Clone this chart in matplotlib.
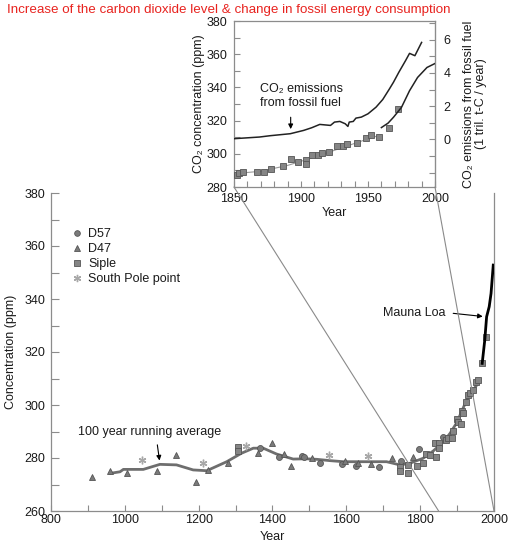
import matplotlib
matplotlib.use("Agg")
import matplotlib.pyplot as plt
from matplotlib.patches import ConnectionPatch
from matplotlib.ticker import MultipleLocator, FixedLocator

plt.rcParams['font.family'] = ['Liberation Sans', 'DejaVu Sans']

# ---------------- data (main panel) ----------------
d57_years = [1366, 1418, 1479, 1486, 1529, 1587, 1626, 1689, 1748, 1797, 1863]
d57_vals = [283.7, 280.2, 280.8, 280.4, 278.2, 277.6, 277.0, 276.7, 278.8, 283.4, 287.8]

d47_years = [910, 960, 1005, 1088, 1138, 1192, 1226, 1280, 1362, 1399, 1431, 1449,
             1506, 1596, 1632, 1668, 1724, 1781]
d47_vals = [273.0, 275.0, 274.5, 275.2, 281.0, 271.0, 275.5, 278.0, 282.0, 285.5, 281.5, 277.0,
            279.9, 278.9, 278.0, 277.6, 280.1, 280.5]

siple_years = [1307, 1307, 1745, 1745, 1766, 1767, 1792, 1808, 1816, 1826, 1844, 1840, 1852, 1852,
               1869, 1876, 1885, 1888, 1899, 1903, 1910, 1912, 1917, 1923, 1930, 1935, 1944,
               1951, 1957, 1967, 1978]
siple_vals = [284.2, 282.7, 276.7, 275.0, 277.4, 274.3, 277.0, 278.0, 281.5, 281.2, 280.5, 285.5,
              285.8, 283.9, 286.8, 287.4, 287.4, 290.3, 294.6, 293.7, 292.7, 297.8, 296.9, 301.2,
              303.8, 304.4, 305.7, 308.8, 309.6, 315.8, 325.7]

southpole_years = [1046, 1212, 1327, 1553, 1658]
southpole_vals = [279.2, 278.0, 284.7, 281.0, 280.8]

avg_years = [960, 987, 996, 1050, 1095, 1140, 1185, 1222, 1276, 1316, 1348, 1375, 1411, 1456,
             1492, 1520, 1556, 1592, 1646, 1709, 1745, 1772, 1808, 1835, 1863, 1881, 1899,
             1926, 1953]
avg_vals = [274.2, 274.8, 275.7, 275.7, 277.6, 277.4, 275.5, 275.2, 278.6, 281.8, 283.7, 283.7,
            281.5, 279.6, 279.7, 279.5, 279.0, 278.6, 278.6, 278.6, 277.4, 278.0, 279.9, 282.6,
            286.1, 289.3, 293.3, 301.9, 307.5]

maunaloa_years = [1968, 1975, 1980, 1987, 1992, 1998]
maunaloa_vals = [315.7, 324.5, 333.3, 337.1, 342.1, 352.8]

# ---------------- data (inset) ----------------
in_siple_years = [1852.5, 1854, 1856.5, 1867.4, 1872.6, 1877.6, 1886.3, 1892.3, 1898, 1903.5,
                  1903.5, 1908, 1913, 1916, 1921, 1927, 1931.5, 1934.5, 1942, 1948.5, 1952,
                  1958, 1965.7, 1972.6]
in_siple_vals = [287.2, 288.6, 289.2, 289.0, 289.2, 290.8, 292.6, 296.6, 295.2, 296.2,
                 293.8, 299.0, 299.0, 300.6, 300.8, 304.7, 304.6, 306.2, 306.6, 309.6, 311.6,
                 310.2, 315.8, 326.7]

in_fit_years = [1850, 1870, 1890, 1910, 1930, 1950, 1958]
in_fit_vals = [288.0, 289.5, 293.0, 298.0, 303.5, 309.0, 311.0]

in_ml_years = [1960, 1965, 1969, 1975, 1981, 1987, 1994, 2000]
in_ml_vals = [315.8, 318.5, 322.0, 328.0, 338.0, 346.0, 352.0, 354.4]

emis_years = [1850, 1869, 1877, 1892, 1902, 1908, 1914, 1922, 1925, 1929, 1933, 1935, 1936,
              1939, 1941, 1945, 1950, 1956, 1961, 1966, 1969, 1973, 1978, 1981, 1985, 1990]
emis_vals = [0.04, 0.14, 0.22, 0.34, 0.54, 0.70, 0.90, 0.84, 1.04, 1.08, 0.94, 0.78, 1.04,
             1.08, 1.28, 1.34, 1.54, 1.94, 2.40, 3.04, 3.44, 4.04, 4.74, 5.18, 5.04, 5.84]

main_xticks = [800, 1000, 1200, 1400, 1600, 1800, 2000]
main_yticks = [260, 280, 300, 320, 340, 360, 380]
in_xticks = [1850, 1900, 1950, 2000]
in_yticks = [280, 300, 320, 340, 360, 380]
in_rticks = [0, 2, 4, 6]

title = "Increase of the carbon dioxide level & change in fossil energy consumption"

# ---------------- figure ----------------
W, H = 510, 547
fig = plt.figure(figsize=(W / 100, H / 100), dpi=100)

def box(l, t, r, b):
    return [l / W, 1 - b / H, (r - l) / W, (b - t) / H]

spine_c = '#8c8c8c'
txt_c = '#1a1a1a'
fs = 9

ax = fig.add_axes(box(51, 193, 494, 511))
ax.set_xlim(800, 2000)
ax.set_ylim(260, 380)
ax.spines['top'].set_visible(False)
for s in ['left', 'bottom', 'right']:
    ax.spines[s].set_color(spine_c)
    ax.spines[s].set_linewidth(0.9)
ax.xaxis.set_major_locator(FixedLocator(main_xticks))
ax.xaxis.set_minor_locator(MultipleLocator(100))
ax.yaxis.set_major_locator(FixedLocator(main_yticks))
ax.yaxis.set_minor_locator(MultipleLocator(10))
ax.tick_params(axis='both', which='both', direction='in', color=spine_c, labelsize=fs,
               labelcolor=txt_c, width=0.8)
ax.tick_params(axis='y', which='both', length=6, pad=4)
ax.tick_params(axis='x', which='both', length=4, pad=2)
ax.set_xlabel('Year', fontsize=fs, color=txt_c, labelpad=4)
ax.set_ylabel('Concentration (ppm)', fontsize=fs, color=txt_c, labelpad=5)

gray = '#6e6e6e'
edge = '#555555'
ms = 4.3
ax.plot(avg_years, avg_vals, color=gray, lw=2.0, solid_joinstyle='round', solid_capstyle='round', zorder=2)
ax.plot(d57_years, d57_vals, 'o', ms=ms, color='#7a7a7a', mec=edge, mew=0.6, label='D57', zorder=3)
ax.plot(d47_years, d47_vals, '^', ms=ms, color='#7a7a7a', mec=edge, mew=0.6, label='D47', zorder=3)
ax.plot(siple_years, siple_vals, 's', ms=ms, color='#858585', mec=edge, mew=0.6, label='Siple', zorder=3)
ax.plot(southpole_years, southpole_vals, marker=(6, 2, 0), ls='none', ms=5.5, color='#a8a8a8',
        mec='#a8a8a8', mew=1.0, label='South Pole point', zorder=3)
ax.plot(maunaloa_years, maunaloa_vals, color='black', lw=2.0, zorder=4)

leg = ax.legend(loc='upper left', bbox_to_anchor=(0.045, 0.89), frameon=False, fontsize=fs,
                handlelength=1.0, handletextpad=0.4, labelspacing=0.25, borderpad=0,
                borderaxespad=0, markerscale=0.95)
for t in leg.get_texts():
    t.set_color(txt_c)

ax.text(873, 289.8, '100 year running average', fontsize=fs, color=txt_c, ha='left', va='center')
ax.annotate('', xy=(1095, 278.0), xytext=(1087, 286.0),
            arrowprops=dict(arrowstyle='-|>', color='black', lw=0.8, mutation_scale=7))
ax.text(1699, 334.7, 'Mauna Loa', fontsize=fs, color=txt_c, ha='left', va='center')
ax.annotate('', xy=(1977, 333.3), xytext=(1882, 334.7),
            arrowprops=dict(arrowstyle='-|>', color='black', lw=0.8, mutation_scale=7))

# ---------------- inset ----------------
ia = fig.add_axes(box(234, 21, 435, 187))
ia.set_xlim(1850, 2000)
ia.set_ylim(280, 380)
for s in ia.spines.values():
    s.set_color(spine_c)
    s.set_linewidth(0.9)
ia.xaxis.set_major_locator(FixedLocator(in_xticks))
ia.xaxis.set_minor_locator(MultipleLocator(10))
ia.yaxis.set_major_locator(FixedLocator(in_yticks))
ia.yaxis.set_minor_locator(MultipleLocator(10))
ia.tick_params(axis='both', which='both', direction='in', color=spine_c, labelsize=fs,
               labelcolor=txt_c, width=0.8, length=4)
ia.tick_params(axis='x', pad=4)
ia.tick_params(axis='y', pad=5)
ia.set_xlabel('Year', fontsize=fs, color=txt_c, labelpad=2)
ia.set_ylabel('CO₂ concentration (ppm)', fontsize=fs, color=txt_c, labelpad=1)

ia.plot(in_fit_years, in_fit_vals, color='#9a9a9a', lw=0.8, zorder=2)
ia.plot(in_siple_years, in_siple_vals, 's', ms=4.5, color='#858585', mec=edge, mew=0.6, zorder=3)
ia.plot(in_ml_years, in_ml_vals, color='#222222', lw=1.1, zorder=3)

ra = ia.twinx()
ra.set_ylim((280 - 308.7) / 10, (380 - 308.7) / 10)
ra.spines['right'].set_color(spine_c)
for s in ['top', 'left', 'bottom']:
    ra.spines[s].set_visible(False)
ra.yaxis.set_major_locator(FixedLocator(in_rticks))
ra.yaxis.set_minor_locator(MultipleLocator(1))
ra.tick_params(axis='y', which='both', direction='in', color=spine_c, labelsize=fs,
               labelcolor=txt_c, width=0.8, length=4, pad=6)
ra.set_ylabel('CO₂ emissions from fossil fuel\n(1 tril. t-C / year)', fontsize=fs,
              color=txt_c, labelpad=9, linespacing=1.05)
ra.plot(emis_years, emis_vals, color='#222222', lw=1.1, zorder=3)

ia.text(1869.4, 334.8, 'CO₂ emissions\nfrom fossil fuel', fontsize=fs, color=txt_c,
        ha='left', va='center', linespacing=1.25)
ia.annotate('', xy=(1892.3, 313.2), xytext=(1892.3, 323.7),
            arrowprops=dict(arrowstyle='-|>', color='black', lw=0.8, mutation_scale=7))

# connectors
for xa in (1850, 2000):
    cp = ConnectionPatch(xyA=(xa, 280), coordsA=ia.transData, xyB=(xa, 260), coordsB=ax.transData,
                         color='#8a8a8a', lw=0.8)
    fig.add_artist(cp)

fig.text(7 / W, 1 - 10 / H, title, color='#e8231f', fontsize=9.6, ha='left', va='center')

fig.savefig('out.png', dpi=100)
